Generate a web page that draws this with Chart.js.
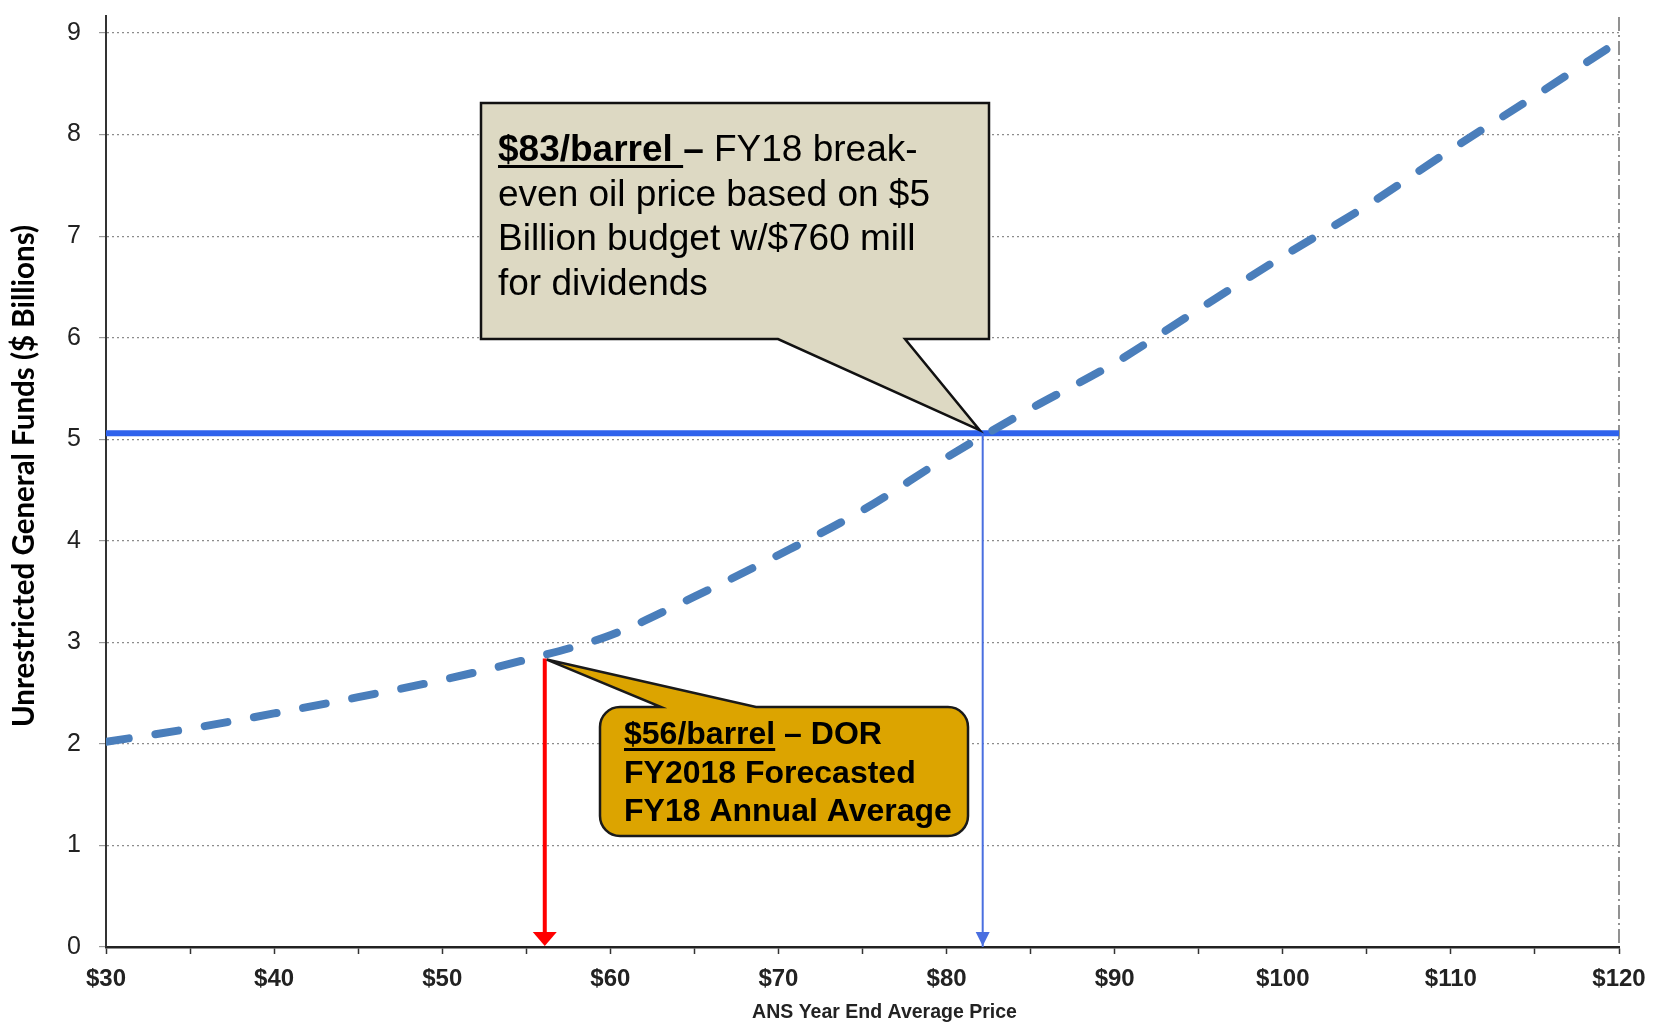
<!DOCTYPE html>
<html><head><meta charset="utf-8">
<script src="https://cdn.jsdelivr.net/npm/chart.js@4.4.1/dist/chart.umd.min.js"></script>
<style>html,body{margin:0;padding:0;background:#fff;}#wrap{position:relative;width:1659px;height:1028px;}</style>
</head><body><div id="wrap"><canvas id="c"></canvas></div>
<script>
// ---- data ----
const prices  = [30, 35, 40, 45, 50, 55, 60, 65, 70, 75, 80, 85, 90, 95, 100, 105, 110, 115, 120];
const revenue = [2.02, 2.15, 2.30, 2.46, 2.63, 2.83, 3.07, 3.45, 3.86, 4.30, 4.82, 5.30, 5.75, 6.28, 6.80, 7.30, 7.85, 8.38, 8.92];
const xTickValues = [30, 40, 50, 60, 70, 80, 90, 100, 110, 120];
const yTickValues = [0, 1, 2, 3, 4, 5, 6, 7, 8, 9];
const budgetLevel = 5.06;
const breakEvenPrice = 82.15;
const forecastPrice = 56.1;
const forecastValue = 2.84;
const xTitle = 'ANS Year End Average Price';
const yTitle = 'Unrestricted General Funds ($ Billions)';
const note1Lead = '$83/barrel ';
const note1Dash = '– ';
const note1Lines = ['FY18 break-', 'even oil price based on $5', 'Billion budget w/$760 mill', 'for dividends'];
const note2Lead = '$56/barrel';
const note2Lines = [' – DOR', 'FY2018 Forecasted', 'FY18 Annual Average'];

const curve = prices.map((p, i) => ({x: p, y: revenue[i]}));
const budget = [{x: prices[0], y: budgetLevel}, {x: prices[prices.length - 1], y: budgetLevel}];
const beLine = [{x: breakEvenPrice, y: budgetLevel}, {x: breakEvenPrice, y: 0}];
const fcLine = [{x: forecastPrice, y: forecastValue}, {x: forecastPrice, y: 0.12}];

const SANS = '"Liberation Sans", Arial, sans-serif';

const annot = {
  id: 'annot',
  beforeDatasetsDraw(chart) {
    const {ctx, scales: {x, y}, chartArea: a} = chart;
    ctx.save();
    const xr = x.getPixelForValue(120);
    ctx.strokeStyle = '#777'; ctx.lineWidth = 1.6; ctx.setLineDash([14, 4, 2, 4]);
    ctx.beginPath(); ctx.moveTo(xr, a.top - 16); ctx.lineTo(xr, a.bottom); ctx.stroke();
    ctx.setLineDash([]);
    ctx.strokeStyle = '#333'; ctx.lineWidth = 2;
    const xl = x.getPixelForValue(30);
    ctx.beginPath(); ctx.moveTo(xl, a.top - 18); ctx.lineTo(xl, a.top); ctx.stroke();
    ctx.restore();
  },
  afterDatasetsDraw(chart) {
    const {ctx, scales: {x, y}, chartArea: a} = chart;
    ctx.save();
    // axis titles
    ctx.fillStyle = '#222'; ctx.textAlign = 'center'; ctx.textBaseline = 'middle';
    ctx.font = 'bold 19.5px ' + SANS;
    ctx.fillText(xTitle, (a.left + a.right) / 2 + 22, 1013);
    ctx.save();
    ctx.translate(24, 476); ctx.rotate(-Math.PI / 2);
    ctx.fillStyle = '#000';
    ctx.font = 'bold 29.5px Lato, "Open Sans", sans-serif';
    ctx.fillText(yTitle, 0, 0);
    ctx.restore();

    // arrowheads
    const y0 = y.getPixelForValue(0);
    const rx = x.getPixelForValue(forecastPrice);
    ctx.fillStyle = '#ff0000';
    ctx.beginPath(); ctx.moveTo(rx, y0 - 1); ctx.lineTo(rx - 12, y0 - 15); ctx.lineTo(rx + 12, y0 - 15); ctx.closePath(); ctx.fill();
    const bx = x.getPixelForValue(breakEvenPrice);
    ctx.fillStyle = '#4a6fe0';
    ctx.beginPath(); ctx.moveTo(bx, y0 - 1); ctx.lineTo(bx - 7, y0 - 15); ctx.lineTo(bx + 7, y0 - 15); ctx.closePath(); ctx.fill();

    // callout 1 (break-even)
    const t1x = bx, t1y = y.getPixelForValue(budgetLevel);
    const L = 481, T = 103, R = 989, B = 339;
    ctx.beginPath();
    ctx.moveTo(L, T); ctx.lineTo(R, T); ctx.lineTo(R, B); ctx.lineTo(905, B);
    ctx.lineTo(t1x - 3, t1y - 3); ctx.lineTo(778, B); ctx.lineTo(L, B); ctx.closePath();
    ctx.fillStyle = '#ddd9c3'; ctx.fill();
    ctx.lineWidth = 2.5; ctx.strokeStyle = '#111'; ctx.lineJoin = 'miter'; ctx.stroke();

    ctx.fillStyle = '#000'; ctx.textBaseline = 'alphabetic'; ctx.textAlign = 'left';
    let tx = 498, ty = 161;
    ctx.font = 'bold 37px ' + SANS;
    ctx.fillText(note1Lead, tx, ty);
    const w1 = ctx.measureText(note1Lead).width;
    ctx.fillRect(tx, ty + 4, w1, 3);
    ctx.fillText(note1Dash, tx + w1, ty);
    const w2 = ctx.measureText(note1Dash).width;
    ctx.font = '37px ' + SANS;
    ctx.fillText(note1Lines[0], tx + w1 + w2, ty);
    for (let i = 1; i < note1Lines.length; i++) ctx.fillText(note1Lines[i], tx, ty + i * 44.5);

    // callout 2 (forecast)
    const t2x = rx, t2y = y.getPixelForValue(forecastValue);
    const l2 = 600, tp = 707, r2 = 968, b2 = 836, rad = 20;
    ctx.beginPath();
    ctx.moveTo(l2 + rad, tp);
    ctx.lineTo(661, tp); ctx.lineTo(t2x + 2, t2y + 1); ctx.lineTo(756, tp);
    ctx.arcTo(r2, tp, r2, b2, rad);
    ctx.arcTo(r2, b2, l2, b2, rad);
    ctx.arcTo(l2, b2, l2, tp, rad);
    ctx.arcTo(l2, tp, r2, tp, rad);
    ctx.closePath();
    ctx.fillStyle = '#dca400'; ctx.fill();
    ctx.lineWidth = 2.5; ctx.strokeStyle = '#1a1a1a'; ctx.stroke();

    ctx.fillStyle = '#000';
    ctx.font = 'bold 32px ' + SANS;
    tx = 624; ty = 744;
    ctx.fillText(note2Lead, tx, ty);
    const w3 = ctx.measureText(note2Lead).width;
    ctx.fillRect(tx, ty + 4, w3, 3);
    ctx.fillText(note2Lines[0], tx + w3, ty);
    for (let i = 1; i < note2Lines.length; i++) ctx.fillText(note2Lines[i], tx, ty + i * 38.5);
    ctx.restore();
  }
};

new Chart(document.getElementById('c'), {
  type: 'scatter',
  data: {
    datasets: [
      {data: budget, showLine: true, borderColor: '#2f62ec', borderWidth: 6, pointRadius: 0, order: 3},
      {data: beLine, showLine: true, borderColor: '#4a6fe0', borderWidth: 2, pointRadius: 0, order: 2},
      {data: curve, showLine: true, borderColor: '#4a7ebb', borderWidth: 8, borderDash: [23, 27],
       borderCapStyle: 'round', cubicInterpolationMode: 'monotone', pointRadius: 0, order: 1},
      {data: fcLine, showLine: true, borderColor: '#ff0000', borderWidth: 4, pointRadius: 0, order: 0}
    ]
  },
  options: {
    responsive: true, maintainAspectRatio: false, animation: false,
    layout: {padding: {left: 0, top: 24, right: 40, bottom: 0}},
    plugins: {legend: {display: false}, tooltip: {enabled: false}},
    scales: {
      x: {
        type: 'linear', min: 30, max: 120,
        afterFit: s => { s.height = 81; },
        afterBuildTicks: s => { s.ticks = prices.map(v => ({value: v})); },
        ticks: {autoSkip: false, maxRotation: 0, padding: 11, color: '#222',
          font: {family: SANS, size: 24, weight: 'bold'},
          callback: v => xTickValues.includes(v) ? '$' + v : ''},
        grid: {drawOnChartArea: false, drawTicks: true, tickLength: 7, tickColor: '#333', tickWidth: 1.5},
        border: {color: '#222', width: 2.5},
        title: {display: false, text: xTitle}
      },
      y: {
        type: 'linear', min: 0, max: 9,
        afterFit: s => { s.width = 106; },
        afterBuildTicks: s => { s.ticks = yTickValues.map(v => ({value: v})); },
        ticks: {padding: 18, color: '#222', font: {family: SANS, size: 25}},
        grid: {color: '#8c8c8c', lineWidth: 1.2, tickLength: 7, tickColor: '#999'},
        border: {color: '#333', width: 2, dash: [2, 3]},
        title: {display: false, text: yTitle}
      }
    }
  },
  plugins: [annot]
});
</script></body></html>
